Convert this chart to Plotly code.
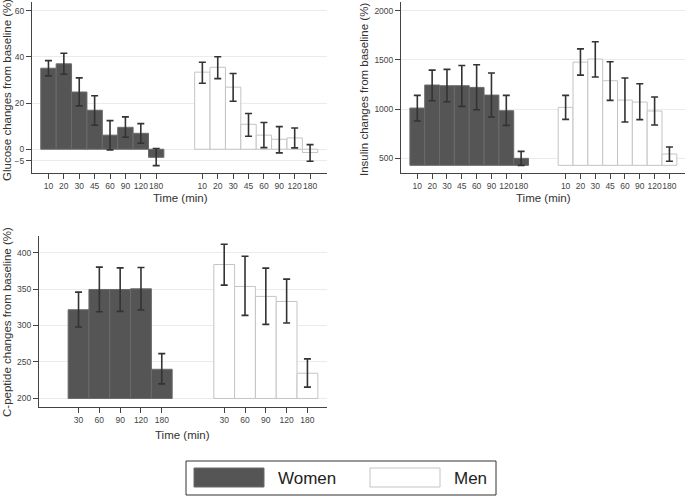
import plotly.graph_objects as go

W, H = 685, 496

# data
gluc_times = ["10", "20", "30", "45", "60", "90", "120", "180"]
gluc_women = [35.1, 37.0, 24.8, 16.9, 6.1, 9.5, 6.9, -3.5]
gluc_women_hi = [38.4, 41.6, 30.9, 23.2, 12.4, 14.0, 11.1, 0.3]
gluc_women_lo = [31.8, 32.5, 18.8, 10.4, -0.3, 5.2, 2.6, -7.1]
gluc_men = [33.4, 35.5, 26.9, 10.8, 6.1, 4.3, 4.9, -1.4]
gluc_men_hi = [37.7, 40.1, 32.8, 15.5, 11.6, 9.8, 9.2, 2.0]
gluc_men_lo = [28.6, 30.6, 20.8, 5.6, 0.7, -1.6, 0.6, -5.2]

ins_times = ["10", "20", "30", "45", "60", "90", "120", "180"]
ins_women = [1010, 1244, 1237, 1237, 1220, 1142, 983, 499]
ins_women_hi = [1139, 1396, 1403, 1443, 1450, 1366, 1139, 570]
ins_women_lo = [878, 1085, 1074, 1027, 993, 919, 834, 428]
ins_men = [1017, 1477, 1508, 1288, 1091, 1071, 980, 543]
ins_men_hi = [1139, 1612, 1684, 1481, 1315, 1257, 1122, 614]
ins_men_lo = [895, 1345, 1325, 1088, 868, 892, 838, 469]
ins_base = 428

cp_times = ["30", "60", "90", "120", "180"]
cp_women = [321.6, 349.4, 349.4, 350.3, 240.0]
cp_women_hi = [345.8, 380.0, 379.0, 379.5, 261.5]
cp_women_lo = [298.0, 318.9, 319.4, 321.2, 220.0]
cp_men = [383.6, 353.5, 339.9, 333.0, 234.6]
cp_men_hi = [411.4, 395.0, 378.6, 363.6, 254.2]
cp_men_lo = [355.4, 313.9, 301.6, 303.4, 215.5]
cp_base = 200

DARK = "#555555"
EDGE_M = "#c4c4c4"
ERR = "#333333"
FONT = "Liberation Sans"

fig = go.Figure()


def add_panel(times, women, w_hi, w_lo, men, m_hi, m_lo, base, xa, ya):
    n = len(times)
    pos_w = [i + 1 for i in range(n)]
    pos_m = [i + n + 3 for i in range(n)]
    for pos, vals, hi, lo, fill, edge in [
        (pos_w, women, w_hi, w_lo, DARK, "#6a6a6a"),
        (pos_m, men, m_hi, m_lo, "white", EDGE_M),
    ]:
        fig.add_trace(go.Bar(
            x=pos, y=[v - base for v in vals], base=base, width=1,
            marker=dict(color=fill, line=dict(color=edge, width=1)),
            error_y=dict(type="data", symmetric=False,
                         array=[h - v for h, v in zip(hi, vals)],
                         arrayminus=[v - l for v, l in zip(vals, lo)],
                         color=ERR, thickness=1.6, width=3.5),
            xaxis=xa, yaxis=ya, showlegend=False, hoverinfo="skip"))
    return pos_w + pos_m, list(times) + list(times)


def px_x(a, b):
    return [a / W, b / W]


def px_y(top, bottom):
    return [1 - bottom / H, 1 - top / H]


axis_common = dict(showline=True, linecolor="#444", linewidth=1, ticks="outside",
                   ticklen=5, tickcolor="#444", zeroline=False, tickangle=0,
                   tickfont=dict(family=FONT, size=8.5, color="#444"))

tv1, tt1 = add_panel(gluc_times, gluc_women, gluc_women_hi, gluc_women_lo,
                     gluc_men, gluc_men_hi, gluc_men_lo, 0, "x", "y")
tv2, tt2 = add_panel(ins_times, ins_women, ins_women_hi, ins_women_lo,
                     ins_men, ins_men_hi, ins_men_lo, ins_base, "x2", "y2")
tv3, tt3 = add_panel(cp_times, cp_women, cp_women_hi, cp_women_lo,
                     cp_men, cp_men_hi, cp_men_lo, cp_base, "x3", "y3")

fig.update_layout(
    width=W, height=H, margin=dict(l=0, r=0, t=0, b=0),
    paper_bgcolor="white", plot_bgcolor="white", barmode="overlay",
    font=dict(family=FONT, color="#333"),
    xaxis=dict(domain=px_x(32, 327), range=[-0.07, 19.1], tickvals=tv1, ticktext=tt1,
               showgrid=False, anchor="y", **axis_common),
    yaxis=dict(domain=px_y(2, 173), range=[-10.3, 63.8], tickvals=[-5, 0, 20, 40, 60],
               showgrid=True, gridcolor="#ebebeb", anchor="x", **axis_common),
    xaxis2=dict(domain=px_x(401, 685), range=[-0.1, 19.05], tickvals=tv2, ticktext=tt2,
                showgrid=False, anchor="y2", **axis_common),
    yaxis2=dict(domain=px_y(2, 173), range=[350, 2088], tickvals=[500, 1000, 1500, 2000],
                showgrid=True, gridcolor="#ebebeb", anchor="x2", **axis_common),
    xaxis3=dict(domain=px_x(39, 327), range=[-0.9, 12.94], tickvals=tv3, ticktext=tt3,
                showgrid=False, anchor="y3", **axis_common),
    yaxis3=dict(domain=px_y(236, 407), range=[188.3, 422.7],
                tickvals=[200, 250, 300, 350, 400],
                showgrid=True, gridcolor="#ebebeb", anchor="x3", **axis_common),
)

titles = [
    ("Glucose changes from baseline (%)", 7, 90, -90),
    ("Insulin changes from baseline (%)", 364, 90, -90),
    ("C-peptide changes from baseline (%)", 7, 322, -90),
    ("Time (min)", 180, 198, 0),
    ("Time (min)", 543, 198, 0),
    ("Time (min)", 183, 435, 0),
]
for text, x, y, ang in titles:
    fig.add_annotation(text=text, x=x / W, y=1 - y / H, xref="paper", yref="paper",
                       showarrow=False, textangle=ang, xanchor="center", yanchor="middle",
                       font=dict(family=FONT, size=11.5, color="#333"))

# legend box drawn by hand
fig.add_shape(type="rect", xref="paper", yref="paper",
              x0=186 / W, x1=496 / W, y0=1 - 495 / H, y1=1 - 461 / H,
              line=dict(color="#333", width=1), fillcolor="white")
fig.add_shape(type="rect", xref="paper", yref="paper",
              x0=194 / W, x1=264 / W, y0=1 - 487 / H, y1=1 - 468 / H,
              line=dict(color="#6a6a6a", width=1), fillcolor=DARK)
fig.add_shape(type="rect", xref="paper", yref="paper",
              x0=370 / W, x1=440 / W, y0=1 - 487 / H, y1=1 - 468 / H,
              line=dict(color=EDGE_M, width=1), fillcolor="white")
for text, x in [("Women", 276), ("Men", 452)]:
    fig.add_annotation(text=text, x=x / W, y=1 - 478 / H, xref="paper", yref="paper",
                       showarrow=False, xanchor="left", yanchor="middle",
                       font=dict(family=FONT, size=17, color="#222"))

fig.write_html("out.html", config={"displayModeBar": False},
               post_script="document.body.style.margin='0';")
